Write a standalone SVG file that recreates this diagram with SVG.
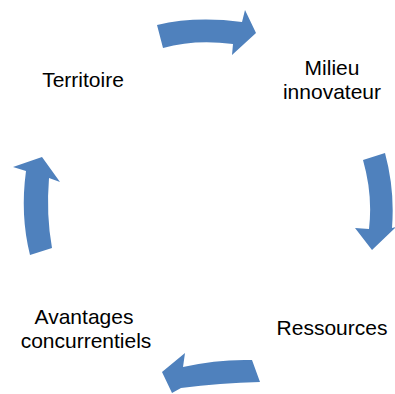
<svg xmlns="http://www.w3.org/2000/svg" width="395" height="394" viewBox="0 0 395 394">
<style>
.arr{fill:#4F81BD;stroke:none}
.lbl{font-family:"Liberation Sans","Noto Sans",sans-serif;font-size:21px;fill:#000;text-anchor:middle}
</style>
<rect width="395" height="394" fill="#fff"/>
<g id="connectors">
<path class="arr" d="M157,25 Q195,16 242,22 L245,10 L256,33 L232,55 L233,44 Q195,39 163,48 Z"/>
<path class="arr" d="M363,160 L385,153 Q395,190 392,228 L396,227 L372,250 L355,228 L369,229 Q373,195 363,160 Z"/>
<path class="arr" d="M252,360 L260,382 Q220,383 181,388 L172,393 L162,372 L185,353 L183,367 Q218,359 252,360 Z"/>
<path class="arr" d="M30,255 Q20,215 26,171 L13,167 L42,157 L60,182 L49,178 Q46,215 52,248 Z"/>
</g>
<g id="territoire"><text class="lbl" x="83" y="87">Territoire</text></g>
<g id="milieu"><text class="lbl" x="332" y="74.5">Milieu</text><text class="lbl" x="332" y="98.5">innovateur</text></g>
<g id="ressources"><text class="lbl" x="332" y="335">Ressources</text></g>
<g id="avantages"><text class="lbl" x="84" y="323.5">Avantages</text><text class="lbl" x="86" y="348">concurrentiels</text></g>
</svg>
